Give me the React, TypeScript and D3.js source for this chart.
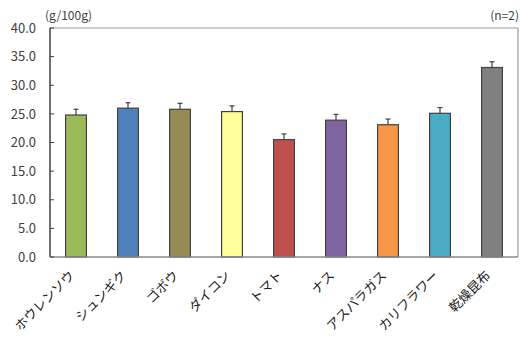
import React from "react";
import * as d3 from "d3";

const categories = ["ホウレンソウ", "シュンギク", "ゴボウ", "ダイコン", "トマト", "ナス", "アスパラガス", "カリフラワー", "乾燥昆布"];
const values = [24.8, 26.0, 25.8, 25.4, 20.5, 23.9, 23.1, 25.1, 33.1];
const errors = [1.0, 0.95, 1.05, 1.0, 1.0, 1.0, 1.0, 1.0, 1.0];
const colors = ["#9BBB59", "#4F81BD", "#948A54", "#FFFF99", "#C0504D", "#8064A2", "#F79646", "#4BACC6", "#808080"];
const yTicks = [0, 5, 10, 15, 20, 25, 30, 35, 40];

const W = 520;
const H = 346;
const margin = { left: 50, right: 2, top: 28, bottom: 89 };
const FONT = "'Noto Sans CJK JP', 'Noto Sans', sans-serif";

export default function App() {
  const x = d3
    .scaleBand<string>()
    .domain(categories)
    .range([margin.left, W - margin.right])
    .paddingInner(0.6)
    .paddingOuter(0.3);
  const y = d3.scaleLinear().domain([0, 40]).range([H - margin.bottom, margin.top]);
  const x0 = margin.left;
  const x1 = W - margin.right;
  const yb = y(0);
  const yt = y(40);

  return (
    <svg width={W} height={H} style={{ position: "absolute", left: 0, top: 0, background: "#fff" }} fontFamily={FONT}>
      {/* frame */}
      <line x1={x0} x2={x1} y1={yt} y2={yt} stroke="#9a9a9a" strokeWidth={1.2} />
      <line x1={x1} x2={x1} y1={yt} y2={yb} stroke="#9a9a9a" strokeWidth={1.2} />
      {/* bars with error bars */}
      {categories.map((c, i) => {
        const bx = x(c)!;
        const bw = x.bandwidth();
        const cx = bx + bw / 2;
        const top = y(values[i]);
        const et = y(values[i] + errors[i]);
        return (
          <g key={c}>
            <line x1={cx} x2={cx} y1={top} y2={et} stroke="#404040" strokeWidth={1.2} />
            <line x1={cx - 2.5} x2={cx + 2.5} y1={et} y2={et} stroke="#404040" strokeWidth={1.2} />
            <rect x={bx} y={top} width={bw} height={yb - top} fill={colors[i]} stroke="#404040" strokeWidth={1.2} />
          </g>
        );
      })}
      {/* axes */}
      <line x1={x0} x2={x0} y1={yt} y2={yb} stroke="#404040" strokeWidth={1.5} />
      <line x1={x0} x2={x1} y1={yb} y2={yb} stroke="#8a8a8a" strokeWidth={1.5} />
      {yTicks.map((t) => (
        <g key={t}>
          <line x1={x0} x2={x0 + 4} y1={y(t)} y2={y(t)} stroke="#404040" strokeWidth={1} />
          <text x={36} y={y(t)} dy="0.36em" textAnchor="end" fontSize={13} fill="#404040">
            {t.toFixed(1)}
          </text>
        </g>
      ))}
      {/* category labels */}
      {categories.map((c) => {
        const cx = x(c)! + x.bandwidth() / 2;
        return (
          <text
            key={c}
            transform={`translate(${cx - 4},${yb + 16}) rotate(-45)`}
            textAnchor="end"
            dy="0.36em"
            fontSize={13}
            fill="#202020"
          >
            {c}
          </text>
        );
      })}
      <text x={45} y={20} fontSize={12} fill="#404040">(g/100g)</text>
      <text x={519} y={20} textAnchor="end" fontSize={12} fill="#404040">(n=2)</text>
    </svg>
  );
}
